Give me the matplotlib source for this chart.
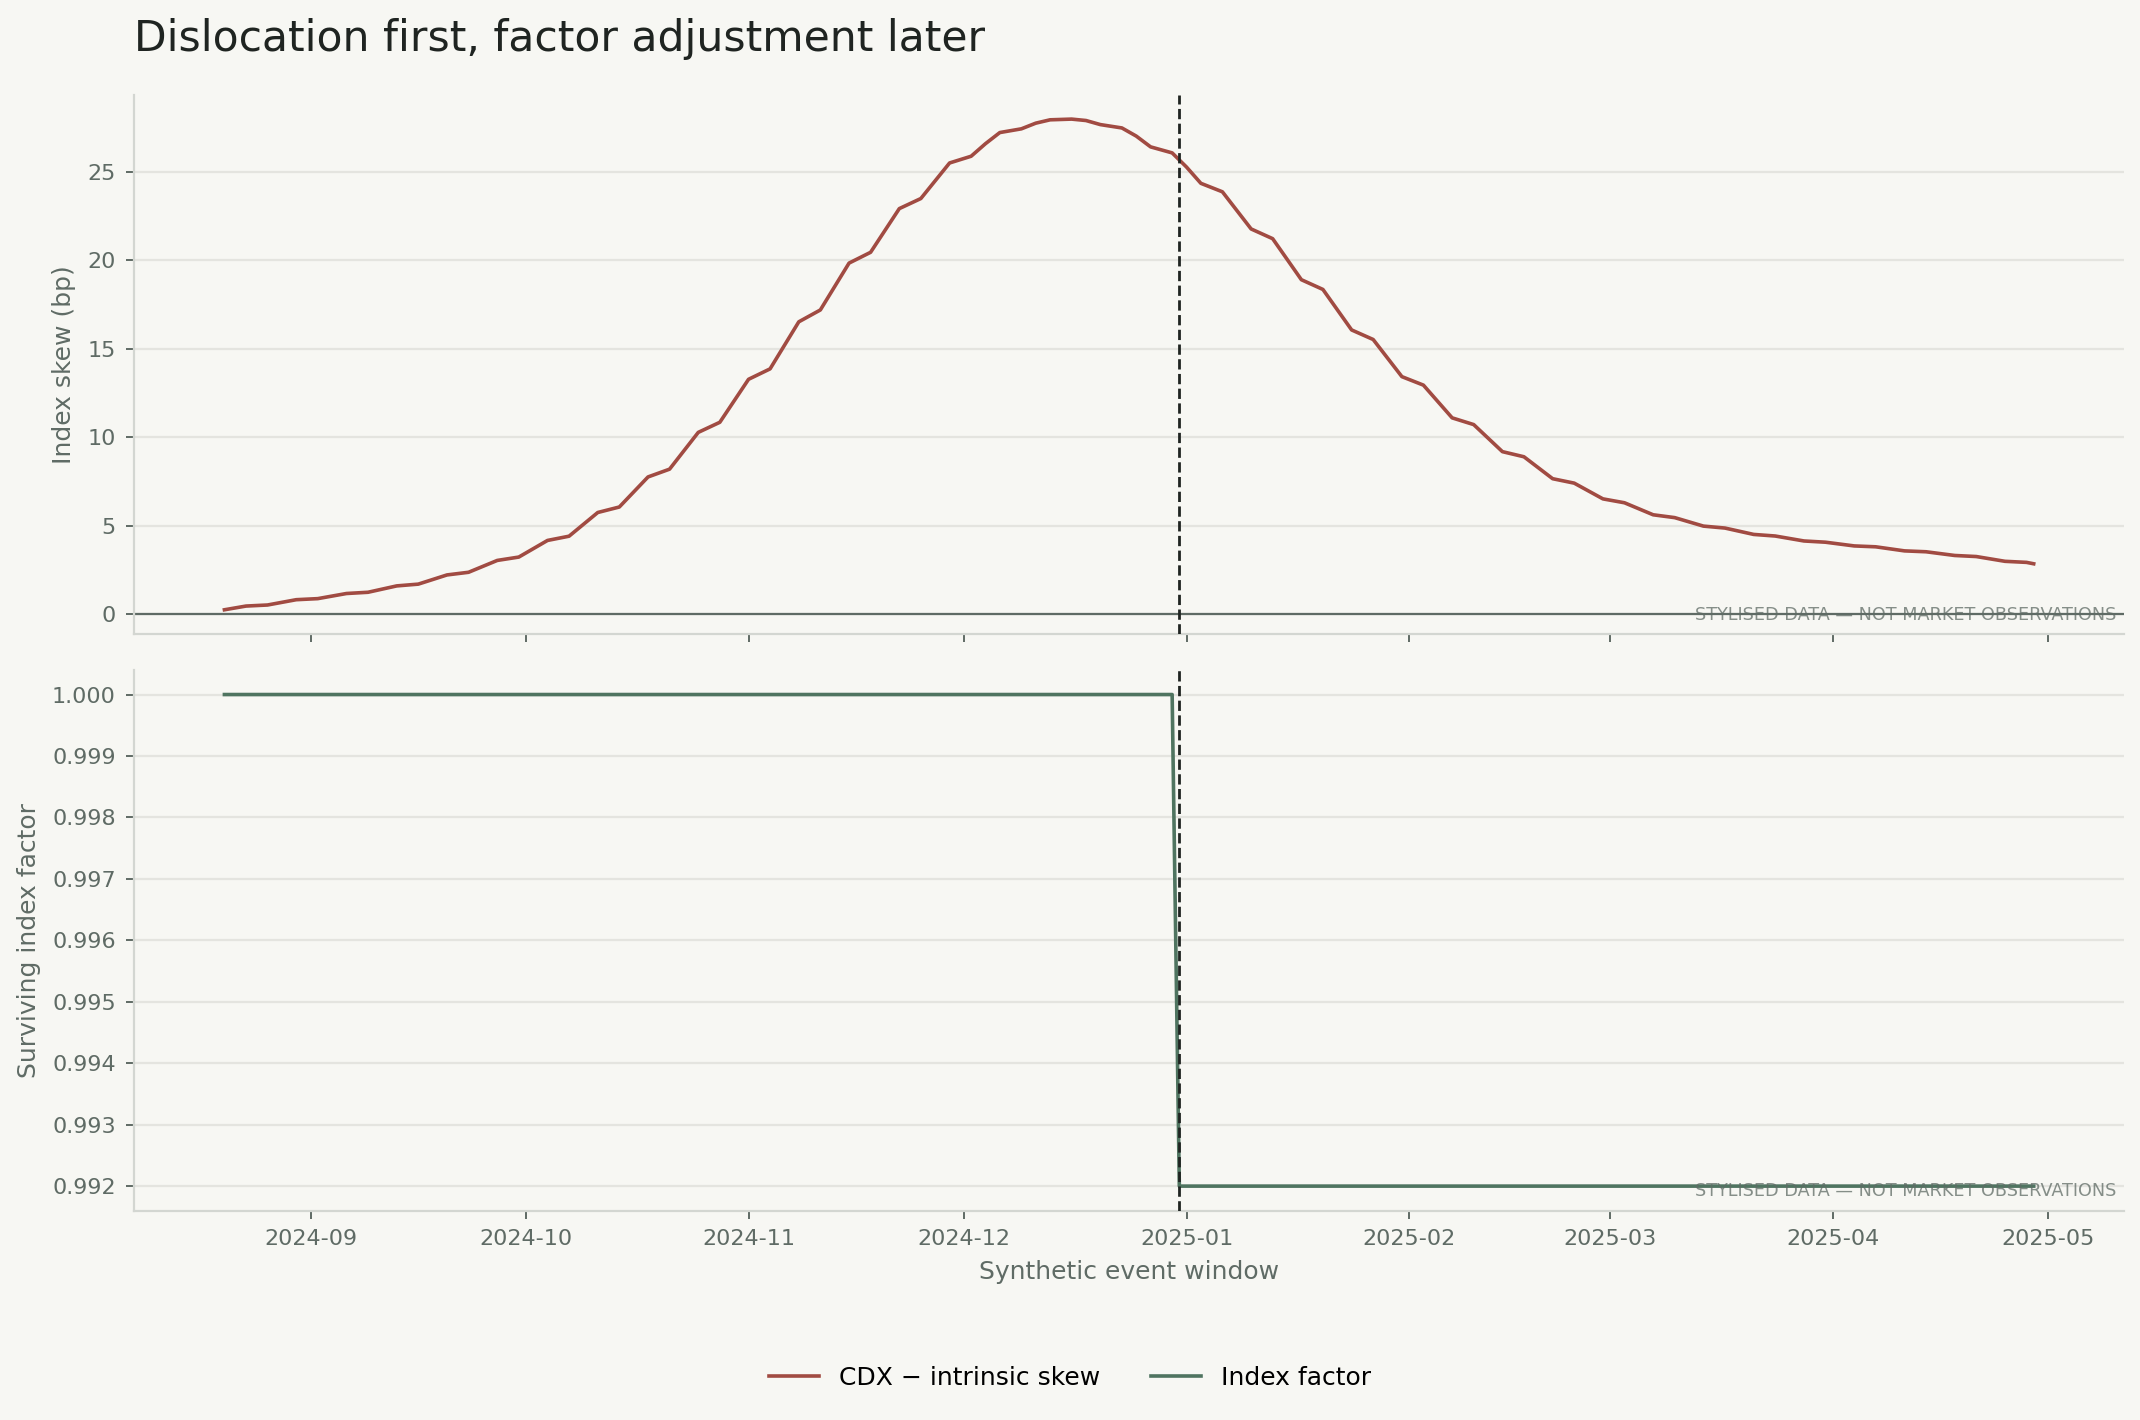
import matplotlib
matplotlib.use("Agg")
import matplotlib.pyplot as plt
import matplotlib.dates as mdates
from matplotlib.ticker import FormatStrFormatter
import pandas as pd

# ---- data ----
skew_dates = [
    "2024-08-20", "2024-08-23", "2024-08-26", "2024-08-30", "2024-09-02", "2024-09-06",
    "2024-09-09", "2024-09-13", "2024-09-16", "2024-09-20", "2024-09-23", "2024-09-27",
    "2024-09-30", "2024-10-04", "2024-10-07", "2024-10-11", "2024-10-14", "2024-10-18",
    "2024-10-21", "2024-10-25", "2024-10-28", "2024-11-01", "2024-11-04", "2024-11-08",
    "2024-11-11", "2024-11-15", "2024-11-18", "2024-11-22", "2024-11-25", "2024-11-29",
    "2024-12-02", "2024-12-04", "2024-12-06", "2024-12-09", "2024-12-11", "2024-12-13",
    "2024-12-16", "2024-12-18", "2024-12-20", "2024-12-23", "2024-12-25", "2024-12-27",
    "2024-12-30", "2025-01-01", "2025-01-03", "2025-01-06", "2025-01-10", "2025-01-13",
    "2025-01-17", "2025-01-20", "2025-01-24", "2025-01-27", "2025-01-31", "2025-02-03",
    "2025-02-07", "2025-02-10", "2025-02-14", "2025-02-17", "2025-02-21", "2025-02-24",
    "2025-02-28", "2025-03-03", "2025-03-07", "2025-03-10", "2025-03-14", "2025-03-17",
    "2025-03-21", "2025-03-24", "2025-03-28", "2025-03-31", "2025-04-04", "2025-04-07",
    "2025-04-11", "2025-04-14", "2025-04-18", "2025-04-21", "2025-04-25", "2025-04-28",
    "2025-04-29",
]
skew_values = [
    0.25, 0.46, 0.52, 0.82, 0.88, 1.17,
    1.24, 1.60, 1.70, 2.22, 2.37, 3.04,
    3.23, 4.17, 4.41, 5.75, 6.06, 7.76,
    8.20, 10.28, 10.85, 13.28, 13.87, 16.53,
    17.20, 19.85, 20.46, 22.93, 23.50, 25.51,
    25.89, 26.60, 27.23, 27.44, 27.76, 27.95,
    27.99, 27.91, 27.68, 27.49, 27.03, 26.42,
    26.08, 25.28, 24.36, 23.88, 21.78, 21.23,
    18.91, 18.36, 16.07, 15.53, 13.43, 12.95,
    11.10, 10.72, 9.19, 8.90, 7.66, 7.41,
    6.52, 6.30, 5.62, 5.46, 4.98, 4.87,
    4.51, 4.42, 4.14, 4.07, 3.86, 3.81,
    3.58, 3.53, 3.32, 3.26, 2.99, 2.93,
    2.85,
]
factor_dates = ["2024-08-20", "2024-12-30", "2024-12-31", "2025-04-29"]
factor_values = [1.000, 1.000, 0.992, 0.992]
event_date = "2024-12-31"

title = "Dislocation first, factor adjustment later"
skew_label = "CDX \u2212 intrinsic skew"
factor_label = "Index factor"
watermark = "STYLISED DATA \u2014 NOT MARKET OBSERVATIONS"

# ---- style ----
BG = "#f7f7f3"
RED = "#a14b42"
GREEN = "#4f7460"
INK = "#1f2421"
MUTED = "#5f6b65"
GRID = "#e4e4df"
SPINE = "#d3d6d1"

plt.rcParams["font.family"] = ["DejaVu Sans"]

fig = plt.figure(figsize=(10.7, 7.1), dpi=200, facecolor=BG)
ax1 = fig.add_axes([0.0626, 0.5533, 0.930, 0.3801])
ax2 = fig.add_axes([0.0626, 0.1474, 0.930, 0.3808], sharex=ax1)

sd = pd.to_datetime(skew_dates)
fd = pd.to_datetime(factor_dates)
ev = pd.Timestamp(event_date)

l1, = ax1.plot(sd, skew_values, color=RED, lw=1.3, label=skew_label, zorder=3)
ylim = ax1.get_ylim()
ax1.axhline(0, color=MUTED, lw=0.8, zorder=2)
ax1.set_ylim(ylim)

l2, = ax2.plot(fd, factor_values, color=GREEN, lw=1.3, label=factor_label, zorder=3)
ax2.yaxis.set_major_formatter(FormatStrFormatter("%.3f"))

for ax in (ax1, ax2):
    ax.set_facecolor(BG)
    ax.axvline(ev, color=INK, lw=1.0, ls="--", zorder=4)
    ax.grid(axis="y", color=GRID, lw=0.8, zorder=0)
    ax.set_axisbelow(True)
    for s in ("top", "right"):
        ax.spines[s].set_visible(False)
    for s in ("left", "bottom"):
        ax.spines[s].set_color(SPINE)
        ax.spines[s].set_linewidth(0.8)
    ax.tick_params(axis="both", colors=MUTED, labelsize=8, length=3, width=0.7)
    ax.text(0.996, 0.02, watermark, transform=ax.transAxes, ha="right", va="bottom",
            fontsize=6.35, color=MUTED, alpha=0.75, zorder=5)

ax2.xaxis.set_major_locator(mdates.MonthLocator())
ax2.xaxis.set_major_formatter(mdates.DateFormatter("%Y-%m"))
plt.setp(ax1.get_xticklabels(), visible=False)

ax1.set_ylabel("Index skew (bp)", color=MUTED, fontsize=9)
ax2.set_ylabel("Surviving index factor", color=MUTED, fontsize=9)
ax2.set_xlabel("Synthetic event window", color=MUTED, fontsize=9)

fig.text(0.0626, 1 - 51 / 1420, title, ha="left", va="baseline", fontsize=15.3, color=INK)

fig.legend(handles=[l1, l2], labels=[skew_label, factor_label], loc="center",
           bbox_to_anchor=(0.5, 0.0296), ncol=2, frameon=False, fontsize=9)

fig.savefig("out.png", dpi=200, facecolor=BG)
